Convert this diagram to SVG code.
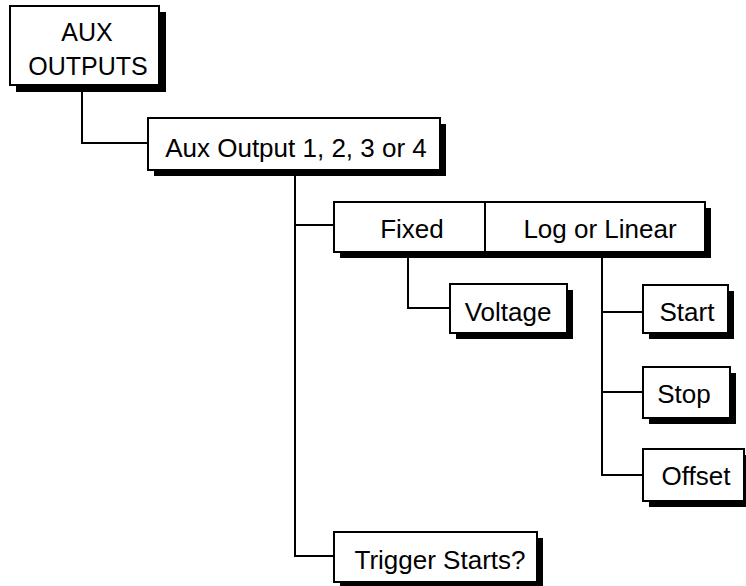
<svg xmlns="http://www.w3.org/2000/svg" width="746" height="586" viewBox="0 0 746 586">
<style>
.sh{fill:#000}
.bx{fill:#fff;stroke:#000;stroke-width:2}
.t{font-family:"Liberation Sans",Arial,sans-serif;font-size:26px;fill:#000;text-anchor:middle}
.c{fill:none;stroke:#000;stroke-width:2}
</style>
<rect width="746" height="586" fill="#fff"/>
<g id="connectors">
<path class="c" d="M82 86 V143 H148"/>
<path class="c" d="M295 170 V556 H334"/>
<path class="c" d="M295 225 H334"/>
<path class="c" d="M408 252 V308 H450"/>
<path class="c" d="M602 252 V475 H643"/>
<path class="c" d="M602 312 H643"/>
<path class="c" d="M602 392 H643"/>
</g>
<g id="aux-outputs">
<rect class="sh" x="16" y="12" width="150" height="80"/>
<rect class="bx" x="10" y="6" width="149" height="79"/>
<text class="t" x="87" y="41" style="font-size:25px">AUX</text>
<text class="t" x="88" y="75" style="font-size:25px">OUTPUTS</text>
</g>
<g id="aux-output-n">
<rect class="sh" x="154" y="124" width="292" height="52"/>
<rect class="bx" x="148" y="118" width="292" height="52"/>
<text class="t" x="296" y="157">Aux Output 1, 2, 3 or 4</text>
</g>
<g id="fixed-log">
<rect class="sh" x="340" y="208" width="371" height="50"/>
<rect class="bx" x="334" y="202" width="371" height="50"/>
<line class="c" x1="485" y1="202" x2="485" y2="252"/>
<text class="t" x="412" y="238">Fixed</text>
<text class="t" x="600" y="238">Log or Linear</text>
</g>
<g id="voltage">
<rect class="sh" x="456" y="290" width="117" height="49"/>
<rect class="bx" x="450" y="284" width="117" height="49"/>
<text class="t" x="508" y="321">Voltage</text>
</g>
<g id="start">
<rect class="sh" x="649" y="291" width="85" height="48"/>
<rect class="bx" x="643" y="285" width="85" height="48"/>
<text class="t" x="687" y="321">Start</text>
</g>
<g id="stop">
<rect class="sh" x="649" y="373" width="87" height="51"/>
<rect class="bx" x="643" y="367" width="87" height="51"/>
<text class="t" x="684" y="403">Stop</text>
</g>
<g id="offset">
<rect class="sh" x="649" y="455" width="101" height="52"/>
<rect class="bx" x="643" y="449" width="101" height="52"/>
<text class="t" x="696" y="485">Offset</text>
</g>
<g id="trigger-starts">
<rect class="sh" x="340" y="538" width="203" height="50"/>
<rect class="bx" x="334" y="532" width="203" height="50"/>
<text class="t" x="440" y="569">Trigger Starts?</text>
</g>
</svg>
